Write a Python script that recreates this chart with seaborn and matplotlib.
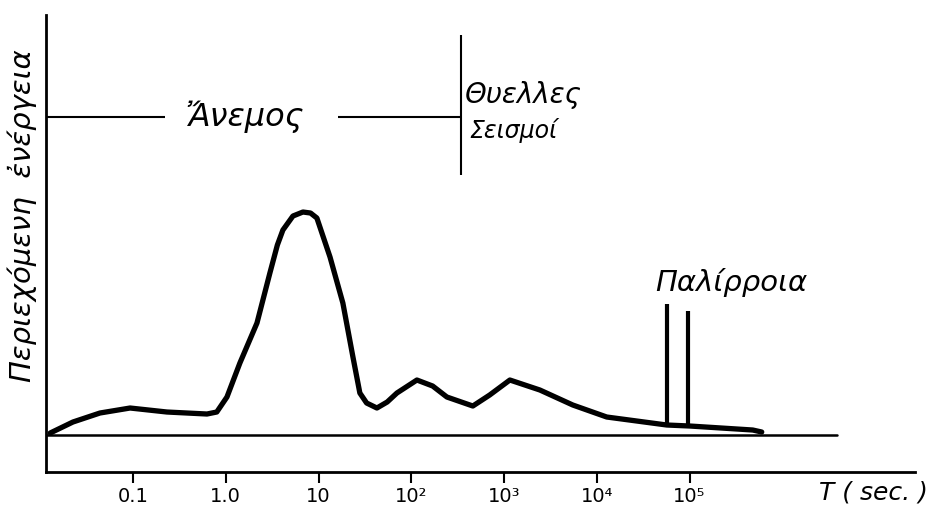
import matplotlib
matplotlib.use("Agg")
import matplotlib.pyplot as plt
import seaborn as sns
import pandas as pd

# ---- data ----
period_s = [0.0128, 0.0225, 0.044, 0.093, 0.232, 0.627, 0.80, 1.03, 1.42, 2.17,
            2.99, 3.6, 4.13, 5.3, 6.79, 8.2, 9.6, 13.3, 18.3, 23.5, 27.9, 33.0,
            42.6, 55.0, 70.0, 115.0, 170.0, 242.0, 461.0, 700.0, 1156.0, 2435.0,
            5510.0, 12800.0, 56800.0, 100500.0, 480000.0, 600000.0]
energy = [2, 13, 22, 27, 23, 21, 23, 38, 72, 112,
          162, 190, 205, 219, 223, 222, 217, 178, 132, 78, 42, 32,
          27, 33, 42, 55, 49, 38, 29, 40, 55, 45,
          30, 18, 10, 9, 5, 3]

tide_periods = [56800.0, 95500.0]
tide_base = [10, 9]
tide_top = [131, 124]

tick_values = [0.1, 1.0, 10.0, 100.0, 1000.0, 1e4, 1e5]
tick_labels = ["0.1", "1.0", "10", "10²", "10³", "10⁴", "10⁵"]

sns.set_theme(style="white")
plt.rcParams['font.family'] = ['DejaVu Sans']
plt.rcParams['text.color'] = 'black'
plt.rcParams['xtick.color'] = 'black'
plt.rcParams['xtick.labelcolor'] = 'black'

fig = plt.figure(figsize=(9.4, 5.11), dpi=100)
ax = fig.add_axes([0.049, 0.0763, 0.924, 0.8943])

df = pd.DataFrame({"T": period_s, "E": energy})
sns.lineplot(data=df, x="T", y="E", ax=ax, color="black", linewidth=3.8,
             estimator=None, sort=False, solid_joinstyle="round",
             solid_capstyle="round")

ax.set_xscale("log")
ax.set_xlim(0.01155, 2.67e7)
ax.set_ylim(-37, 420)

# tidal spikes
ax.vlines(tide_periods, tide_base, tide_top, color="black", linewidth=3.0)

# baseline (zero energy)
ax.axhline(0, xmin=0, xmax=0.911, color="black", linewidth=1.8)

# wind range bracket
ax.hlines(318, 0.01155, 0.221, color="black", linewidth=1.5)
ax.hlines(318, 16.2, 342, color="black", linewidth=1.5)
ax.vlines(342, 260, 400, color="black", linewidth=1.5)

ax.text(1.61, 318, "Ἄνεμος", ha="center", va="center", fontsize=23,
        style="italic", color="black")
ax.text(378, 340, "Θυελλες", ha="left", va="center", fontsize=20,
        style="italic", color="black")
ax.text(427, 305, "Σεισμοί", ha="left", va="center", fontsize=17,
        style="italic", color="black")
ax.text(42200, 153, "Παλίρροια", ha="left", va="center", fontsize=21,
        style="italic", color="black")
ax.text(2.5e6, -57, "T ( sec. )", ha="left", va="center", fontsize=18,
        style="italic", clip_on=False, color="black")

fig.text(0.024, 0.579, "Περιεχόμενη  ἐνέργεια", rotation=90, ha="center",
         va="center", fontsize=21, style="italic", color="black")

ax.set_xticks(tick_values)
ax.set_xticklabels(tick_labels, fontsize=14, color="black")
ax.xaxis.set_minor_locator(matplotlib.ticker.NullLocator())
ax.set_yticks([])
ax.tick_params(axis="x", direction="out", length=8, width=1.5,
               bottom=True, color="black", labelcolor="black", pad=3)
ax.set_xlabel("")
ax.set_ylabel("")

for s in ["top", "right"]:
    ax.spines[s].set_visible(False)
for s in ["left", "bottom"]:
    ax.spines[s].set_color("black")
    ax.spines[s].set_linewidth(2.0)

fig.savefig("out.png", dpi=100, facecolor="white")
